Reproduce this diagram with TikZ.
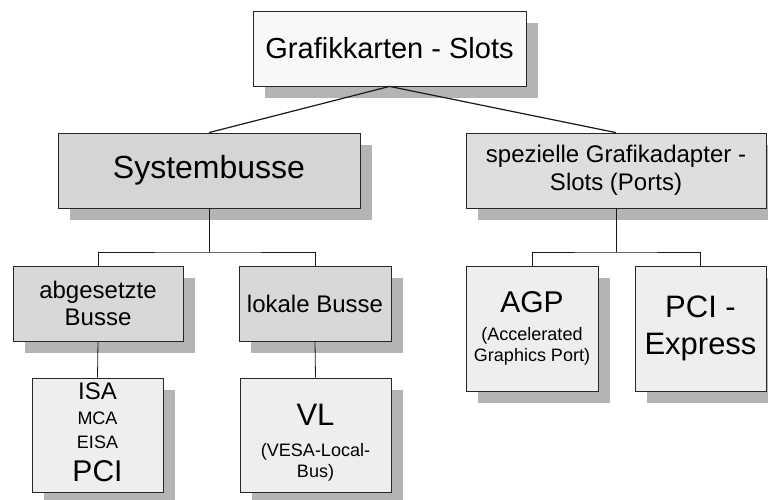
\documentclass[tikz,border=0pt]{standalone}
\usepackage{fontspec}
\setmainfont{Liberation Sans}
\usetikzlibrary{shadows}

\definecolor{shadegray}{HTML}{B4B4B4}
\definecolor{topgray}{HTML}{F8F8F8}
\definecolor{sysgray}{HTML}{D5D5D5}
\definecolor{spezgray}{HTML}{DEDEDE}
\definecolor{busgray}{HTML}{D8D8D8}
\definecolor{leafgray}{HTML}{EEEEEE}

\newcommand{\fs}[1]{\fontsize{#1}{#1}\selectfont}

\begin{document}
\begin{tikzpicture}[x=1pt,y=-1pt,
  card/.style={draw=black!85, line width=0.8pt, rectangle, inner sep=0pt, align=center,
    drop shadow={shadow xshift=12pt, shadow yshift=-12pt, fill=shadegray, opacity=1}},
  link/.style={draw=black!90, line width=0.8pt},
  ]
\fill[white] (0,0) rectangle (768,499);
\useasboundingbox (0,0) rectangle (768,499);

% root
\node[card, fill=topgray, minimum width=273pt, minimum height=75pt,
  font=\fs{29}] (top) at (389.5,48.5) {Grafikkarten - Slots};

% first level
\node[card, fill=sysgray, minimum width=302pt, minimum height=75pt,
  font=\fs{32}] (sys) at (209,170.5) {Systembusse};
\node[card, fill=spezgray, minimum width=300pt, minimum height=75pt,
  font=\fontsize{24}{28}\selectfont] (spez) at (616,170.5) {spezielle Grafikadapter -\\Slots (Ports)};

% busses
\node[card, fill=busgray, minimum width=170pt, minimum height=75pt,
  font=\fontsize{24}{27}\selectfont] (abg) at (98,303.5) {abgesetzte\\Busse};
\node[card, fill=busgray, minimum width=152pt, minimum height=75pt,
  font=\fs{24}] (lok) at (315,303.5) {lokale Busse};

% leaves (struts push the text block off centre)
\node[card, fill=leafgray, minimum width=131pt, minimum height=114pt,
  font=\fontsize{18}{24.5}\selectfont] (isa) at (97.5,435)
  {{\fs{24}ISA}\\MCA\\EISA\\[8.5pt]{\fs{30}PCI\rule[-5pt]{0pt}{5pt}}};
\node[card, fill=leafgray, minimum width=151pt, minimum height=114pt,
  font=\fontsize{18}{21}\selectfont] (vl) at (315.5,435)
  {{\fs{31}\rule{0pt}{36pt}VL}\\[10pt](VESA-Local-\\Bus)};
\node[card, fill=leafgray, minimum width=132pt, minimum height=125pt,
  font=\fontsize{18}{21}\selectfont] (agp) at (532,328.5)
  {{\fs{30}AGP}\\[7pt](Accelerated\\Graphics Port)};
\node[card, fill=leafgray, minimum width=131pt, minimum height=125pt,
  font=\fontsize{31}{37}\selectfont] (pcie) at (700.5,328.5) {PCI -\\Express};

% connectors
\draw[link, line width=1.2pt] (top.south) -- (sys.north);
\draw[link, line width=1.2pt] (top.south) -- (spez.north);
\coordinate (sysfork) at (209,252);
\coordinate (spezfork) at (616,252);
\draw[link] (sys.south) -- (sysfork);
\draw[link] (abg.north) |- (sysfork) -| (lok.north);
\draw[link] (spez.south) -- (spezfork);
\draw[link] (agp.north) |- (spezfork) -| (pcie.north);
\draw[link] (abg.south) -- (isa.north);
\draw[link] (lok.south) -- (vl.north);
\end{tikzpicture}
\end{document}
